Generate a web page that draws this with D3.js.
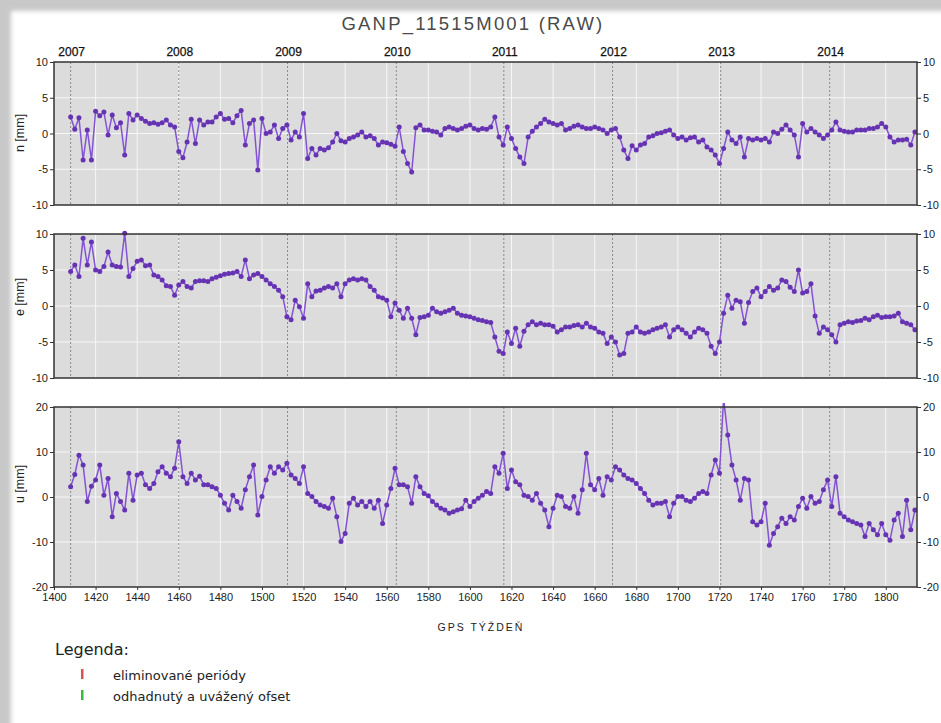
<!DOCTYPE html>
<html>
<head>
<meta charset="utf-8">
<script src="https://cdn.jsdelivr.net/npm/d3@7"></script>
<style>
  html, body { margin: 0; padding: 0; background: #c8c8c8; }
  svg { display: block; }
  .tick text { font-family: "Liberation Sans", Arial, sans-serif; font-size: 11px; fill: #222; }
  .tick line { stroke: #333; }
</style>
</head>
<body>
<svg width="941" height="723"></svg>
<script>
// weekly solutions, read every 2nd GPS week off the plot
const startWeek = 1408;
const weekStep = 2;

const nValues = [
  2.3, 0.6, 2.2, -3.7, 0.5, -3.7, 3.1, 2.5, 3.0, -0.2,
  2.6, 0.8, 1.5, -3.0, 2.8, 1.9, 2.6, 2.1, 1.7, 1.4,
  1.5, 1.3, 1.5, 1.9, 1.2, 0.9, -2.5, -3.4, -1.2, 2.0,
  -1.4, 1.9, 1.2, 1.6, 1.6, 2.3, 2.8, 2.0, 2.1, 1.5,
  2.5, 3.2, -1.6, 1.4, 1.9, -5.1, 2.1, 0.0, 0.2, 1.2,
  -0.7, 0.7, 1.2, -0.9, 0.2, -0.5, 2.8, -3.5, -2.1, -3.0,
  -2.1, -2.3, -2.0, -1.2, 0.0, -1.0, -1.2, -0.7, -0.5, -0.2,
  0.2, -0.5, -0.3, -0.7, -1.6, -1.2, -1.3, -1.5, -1.8, 0.9,
  -2.5, -4.2, -5.4, 0.8, 1.2, 0.5, 0.5, 0.3, 0.2, -0.2,
  0.7, 0.9, 0.7, 0.5, 0.7, 1.0, 1.2, 0.7, 0.5, 0.7,
  0.6, 0.9, 2.3, -0.5, -1.6, 0.9, -0.7, -2.1, -3.3, -4.2,
  -0.5, 0.3, 0.9, 1.4, 2.0, 1.6, 1.4, 1.2, 1.4, 0.5,
  0.7, 1.0, 1.2, 0.9, 0.7, 0.7, 0.9, 0.7, 0.5, 0.0,
  0.5, 0.7, -0.5, -2.3, -3.5, -1.7, -2.3, -1.6, -1.4, -0.5,
  -0.3, 0.0, 0.1, 0.3, 0.5, -0.2, -0.7, -0.5, -0.9, -0.6,
  -0.5, -1.2, -0.9, -1.9, -2.3, -3.0, -4.2, -2.1, 0.2, -0.9,
  -1.4, -0.5, -3.3, -0.7, -0.9, -0.7, -0.9, -0.7, -1.2, 0.2,
  0.0, 0.6, 1.2, 0.5, -0.2, -3.3, 1.4, 0.2, 0.7, 0.2,
  -0.2, -0.7, -0.2, 0.5, 1.6, 0.5, 0.3, 0.2, 0.2, 0.5,
  0.5, 0.5, 0.7, 0.7, 0.9, 1.4, 0.9, -0.5, -1.2, -0.9,
  -0.9, -0.8, -1.6, 0.2
];

const eValues = [
  4.8, 5.7, 4.1, 9.4, 5.7, 8.9, 5.0, 4.8, 5.5, 7.5,
  5.7, 5.5, 5.4, 10.1, 4.1, 5.2, 6.2, 6.4, 5.6, 5.7,
  4.3, 4.1, 3.6, 2.8, 2.7, 1.5, 2.9, 3.4, 2.7, 2.5,
  3.4, 3.5, 3.5, 3.4, 3.8, 4.0, 4.2, 4.4, 4.5, 4.6,
  4.8, 4.1, 6.4, 3.8, 4.3, 4.5, 4.1, 3.6, 3.1, 2.7,
  2.2, 1.3, -1.5, -1.9, 0.8, -0.1, -1.7, 3.1, 1.3, 2.1,
  2.2, 2.5, 2.7, 2.5, 3.1, 1.3, 3.1, 3.6, 3.8, 3.6,
  3.8, 3.6, 2.7, 2.2, 1.3, 1.1, 0.8, -1.5, 0.4, -0.6,
  -1.7, -0.3, -1.7, -4.0, -1.6, -1.5, -1.3, -0.3, -0.8, -1.0,
  -0.8, -0.6, -0.3, -1.0, -1.3, -1.4, -1.5, -1.7, -1.9, -2.0,
  -2.2, -2.3, -4.3, -6.3, -6.6, -3.6, -5.2, -3.1, -5.6, -3.5,
  -2.6, -2.2, -2.6, -2.4, -2.6, -2.6, -2.8, -3.6, -3.3, -2.9,
  -2.9, -2.7, -2.6, -2.9, -2.4, -2.9, -3.1, -3.6, -3.8, -5.2,
  -4.3, -5.0, -6.8, -6.6, -3.8, -3.6, -2.9, -3.6, -3.8, -3.6,
  -3.3, -3.1, -2.9, -2.6, -4.3, -3.3, -2.9, -3.3, -3.8, -4.3,
  -3.6, -3.1, -3.3, -3.8, -5.6, -6.6, -5.0, -1.0, 1.5, -0.3,
  0.8, 0.6, -2.4, 0.5, 2.0, 2.5, 1.3, 2.0, 2.7, 2.2,
  2.5, 3.6, 3.4, 2.6, 2.0, 5.0, 1.8, 2.0, 3.1, -1.4,
  -3.8, -2.9, -3.3, -4.0, -5.0, -2.6, -2.4, -2.2, -2.3, -2.1,
  -2.0, -1.7, -1.9, -1.5, -1.3, -1.6, -1.5, -1.5, -1.4, -1.0,
  -2.2, -2.4, -2.6, -3.3
];

const uValues = [
  2.3, 5.0, 9.3, 7.1, -1.0, 2.4, 3.8, 7.1, 0.4, 4.1,
  -4.4, 0.8, -1.0, -2.9, 5.3, -0.7, 4.9, 5.3, 2.7, 1.9,
  3.0, 5.6, 6.7, 5.3, 4.5, 6.4, 12.3, 4.5, 3.0, 5.3,
  3.8, 4.6, 2.7, 2.7, 2.3, 1.9, 0.4, -1.4, -2.9, 0.4,
  -1.0, -2.5, 1.6, 4.5, 7.1, -4.0, 0.1, 3.8, 6.7, 5.3,
  6.7, 6.0, 7.5, 4.9, 4.1, 3.0, 6.7, 0.8, 0.1, -1.0,
  -1.8, -2.1, -2.5, -0.3, -4.4, -9.9, -8.1, -1.4, -0.3, -1.8,
  -1.0, -2.1, -1.0, -2.5, -0.7, -5.9, -1.8, 1.9, 6.4, 2.7,
  2.7, 2.3, -1.4, 4.5, 2.3, 0.8, 0.3, -1.0, -1.8, -2.5,
  -2.9, -3.6, -3.3, -2.9, -2.6, -0.7, -2.1, -1.0, -0.3, 0.4,
  1.2, 0.8, 6.7, 5.3, 9.7, 1.9, 6.0, 3.4, 2.7, 0.4,
  0.1, -0.7, 0.8, -1.4, -2.9, -6.6, -2.5, 0.4, 0.1, -2.1,
  -2.5, 0.1, -3.6, 1.6, 9.7, 2.7, 1.6, 4.1, 0.4, 4.5,
  3.8, 6.7, 6.0, 4.9, 4.1, 3.8, 3.0, 1.9, 0.8, -0.7,
  -1.8, -1.4, -1.4, -1.0, -4.4, -1.4, 0.1, 0.1, -0.7, -1.0,
  -0.3, 0.8, 1.2, 0.8, 4.9, 8.2, 5.3, 21.9, 13.8, 7.1,
  3.8, -0.7, 4.1, 3.8, -5.5, -6.2, -5.5, -1.4, -10.7, -8.1,
  -6.6, -4.7, -5.9, -4.4, -5.1, -2.1, -0.3, -2.5, 0.1, -1.4,
  -1.0, 1.6, 3.8, -2.1, 4.5, -3.6, -4.4, -5.1, -5.5, -5.9,
  -6.2, -8.8, -5.9, -7.3, -8.4, -5.9, -8.4, -9.6, -5.1, -3.6,
  -8.8, -0.7, -7.3, -2.9
];

const weekTicks = [1400, 1420, 1440, 1460, 1480, 1500, 1520, 1540, 1560, 1580, 1600,
  1620, 1640, 1660, 1680, 1700, 1720, 1740, 1760, 1780, 1800];
const yearLabels = ['2007', '2008', '2009', '2010', '2011', '2012', '2013', '2014'];
const yearWeeks = [1408, 1460, 1512.3, 1564.6, 1616.3, 1668.6, 1720.6, 1773];
const neTicks = [-10, -5, 0, 5, 10];
const uTicks = [-20, -10, 0, 10, 20];

const legendLabels = ['eliminované periódy', 'odhadnutý a uvážený ofset'];
const legendColors = ['#d9534f', '#3cb93c'];

const svg = d3.select('svg');
const defs = svg.append('defs');

defs.append('filter').attr('id', 'soft')
  .append('feGaussianBlur').attr('stdDeviation', 2);

// page with blurred frame edge
svg.append('rect')
  .attr('x', 11).attr('y', 11).attr('width', 960).attr('height', 740)
  .attr('fill', '#fff')
  .attr('filter', 'url(#soft)');

const x = d3.scaleLinear().domain([1400, 1815]).range([54, 917]);
const weekOf = (d, i) => startWeek + i * weekStep;

const panels = [
  {name: 'n [mm]', values: nValues, ticks: neTicks, top: 62, bottom: 205, labelY: 133},
  {name: 'e [mm]', values: eValues, ticks: neTicks, top: 234, bottom: 378, labelY: 297},
  {name: 'u [mm]', values: uValues, ticks: uTicks, top: 407, bottom: 587, labelY: 484}
];

svg.append('text')
  .attr('x', 473).attr('y', 30)
  .attr('text-anchor', 'middle')
  .style('font-family', '"Liberation Sans", Arial, sans-serif')
  .style('font-size', '18.5px')
  .style('letter-spacing', '2.2px')
  .attr('fill', '#4a4a4a')
  .text('GANP_11515M001 (RAW)');

panels.forEach((p, k) => {
  const y = d3.scaleLinear()
    .domain(d3.extent(p.ticks))
    .range([p.bottom, p.top]);
  const g = svg.append('g');
  const [x0, x1] = x.range();

  g.append('rect')
    .attr('x', x0).attr('y', p.top)
    .attr('width', x1 - x0).attr('height', p.bottom - p.top)
    .attr('fill', '#dcdcdc');

  g.selectAll('.vgrid').data(weekTicks.slice(1))
    .enter().append('line')
      .attr('x1', d => x(d)).attr('x2', d => x(d))
      .attr('y1', p.top).attr('y2', p.bottom)
      .attr('stroke', '#f6f6f6').attr('stroke-width', 1);

  g.selectAll('.hgrid').data(p.ticks.slice(1, -1))
    .enter().append('line')
      .attr('x1', x0).attr('x2', x1)
      .attr('y1', d => y(d)).attr('y2', d => y(d))
      .attr('stroke', '#f6f6f6').attr('stroke-width', 1);

  g.selectAll('.year').data(yearWeeks)
    .enter().append('line')
      .attr('x1', d => x(d)).attr('x2', d => x(d))
      .attr('y1', p.top).attr('y2', p.bottom)
      .attr('stroke', '#8a8a8a').attr('stroke-width', 1)
      .attr('stroke-dasharray', '2,2');

  const clipId = 'clip' + k;
  defs.append('clipPath').attr('id', clipId)
    .append('rect')
      .attr('x', x0).attr('y', p.top - 4)
      .attr('width', x1 - x0).attr('height', p.bottom - p.top + 8);

  const dataG = g.append('g').attr('clip-path', `url(#${clipId})`);
  const line = d3.line()
    .x((d, i) => x(weekOf(d, i)))
    .y(d => y(d));

  dataG.append('path')
    .attr('d', line(p.values))
    .attr('fill', 'none')
    .attr('stroke', '#8452d6')
    .attr('stroke-width', 1.5);

  dataG.selectAll('circle').data(p.values)
    .enter().append('circle')
      .attr('cx', (d, i) => x(weekOf(d, i)))
      .attr('cy', d => y(d))
      .attr('r', 2.5)
      .attr('fill', '#6633b3');

  g.append('rect')
    .attr('x', x0).attr('y', p.top)
    .attr('width', x1 - x0).attr('height', p.bottom - p.top)
    .attr('fill', 'none').attr('stroke', '#333').attr('stroke-width', 1.5);

  const fmt = d => String(d);
  g.append('g')
    .attr('transform', `translate(${x0},0)`)
    .call(d3.axisLeft(y).tickValues(p.ticks).tickSize(4).tickPadding(2).tickFormat(fmt))
    .call(a => a.select('.domain').remove());
  g.append('g')
    .attr('transform', `translate(${x1},0)`)
    .call(d3.axisRight(y).tickValues(p.ticks).tickSize(4).tickPadding(2).tickFormat(fmt))
    .call(a => a.select('.domain').remove());

  g.append('text')
    .attr('transform', `translate(24,${p.labelY}) rotate(-90)`)
    .attr('text-anchor', 'middle')
    .style('font-family', '"Liberation Sans", Arial, sans-serif')
    .style('font-size', '12.5px')
    .attr('fill', '#222')
    .text(p.name);

  if (k === 0) {
    g.selectAll('.yl').data(yearLabels)
      .enter().append('text')
        .attr('x', (d, i) => x(yearWeeks[i]) + 1)
        .attr('y', 56)
        .attr('text-anchor', 'middle')
        .style('font-family', '"Liberation Sans", Arial, sans-serif')
        .style('font-size', '12px')
        .attr('fill', '#111')
        .attr('stroke', '#111').attr('stroke-width', 0.25)
        .text(d => d);
  }

  if (k === panels.length - 1) {
    g.append('g')
      .attr('transform', `translate(0,${p.bottom})`)
      .call(d3.axisBottom(x).tickValues(weekTicks).tickSize(3).tickPadding(3).tickFormat(fmt))
      .call(a => a.select('.domain').remove());
  }
});

svg.append('text')
  .attr('x', 481).attr('y', 631)
  .attr('text-anchor', 'middle')
  .style('font-family', '"Liberation Sans", Arial, sans-serif')
  .style('font-size', '10.5px')
  .style('letter-spacing', '2px')
  .attr('fill', '#222')
  .text('GPS TÝŽDEŇ');

svg.append('text')
  .attr('x', 55).attr('y', 655)
  .style('font-family', '"DejaVu Sans", sans-serif')
  .style('font-size', '16px')
  .attr('fill', '#222')
  .text('Legenda:');

const legend = svg.selectAll('.leg').data(legendLabels)
  .enter().append('g')
    .attr('transform', (d, i) => `translate(0,${669 + i * 21})`);

legend.append('rect')
  .attr('x', 81).attr('y', 0).attr('width', 2.5).attr('height', 10)
  .attr('fill', (d, i) => legendColors[i]);

legend.append('text')
  .attr('x', 113).attr('y', 11)
  .style('font-family', '"DejaVu Sans", sans-serif')
  .style('font-size', '13px')
  .attr('fill', '#222')
  .text(d => d);
</script>
</body>
</html>
